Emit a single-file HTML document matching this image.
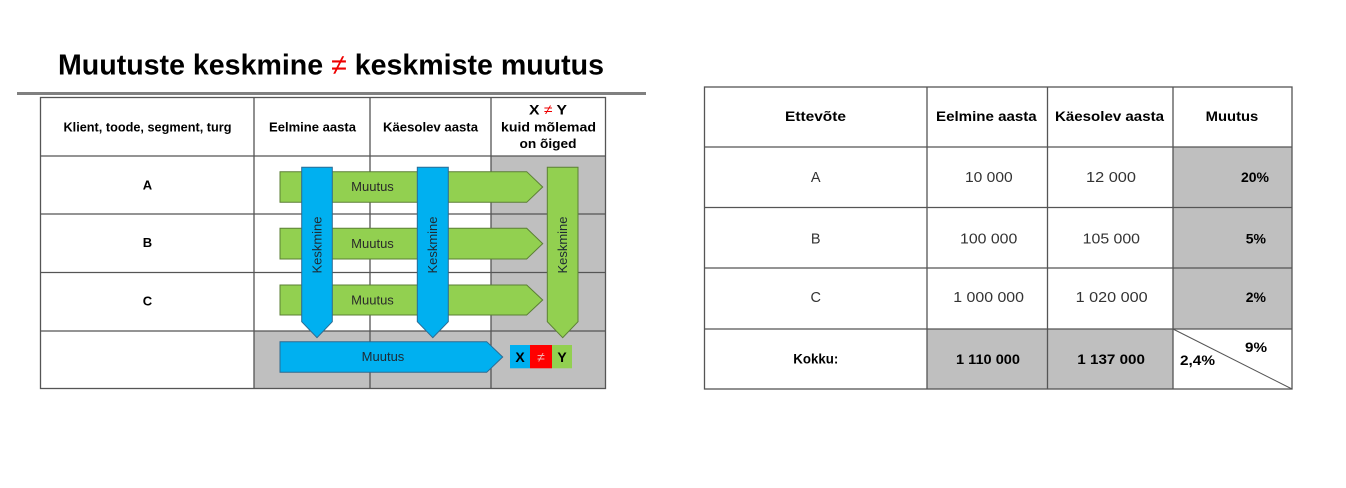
<!DOCTYPE html>
<html><head><meta charset="utf-8"><style>
html,body{margin:0;padding:0;background:#fff;}
svg{display:block;}
text{font-family:"Liberation Sans",sans-serif;}
</style></head><body>
<svg width="1346" height="488" viewBox="0 0 1346 488" xmlns="http://www.w3.org/2000/svg">
<rect width="1346" height="488" fill="#fff"/>
<!-- Title -->
<text x="58" y="74.5" font-size="29" font-weight="bold" fill="#000" textLength="546" lengthAdjust="spacingAndGlyphs">Muutuste keskmine <tspan fill="#e00" font-weight="normal">≠</tspan> keskmiste muutus</text>
<rect x="17" y="92" width="629" height="3" fill="#808080"/>

<!-- Left table shading -->
<rect x="491" y="156" width="115" height="175" fill="#bfbfbf"/>
<rect x="254" y="331" width="352" height="58" fill="#bfbfbf"/>
<!-- Left table grid -->
<g stroke="#555" stroke-width="1.3" fill="none">
<rect x="40.5" y="97.5" width="565" height="291"/>
<line x1="254" y1="97" x2="254" y2="389"/>
<line x1="370" y1="97" x2="370" y2="389"/>
<line x1="491" y1="97" x2="491" y2="389"/>
<line x1="40" y1="156" x2="606" y2="156"/>
<line x1="40" y1="214" x2="606" y2="214"/>
<line x1="40" y1="272.5" x2="606" y2="272.5"/>
<line x1="40" y1="331" x2="606" y2="331"/>
</g>
<!-- Left header text -->
<g font-size="13" font-weight="bold" fill="#000">
<text x="63.5" y="131.5" textLength="168" lengthAdjust="spacingAndGlyphs">Klient, toode, segment, turg</text>
<text x="269" y="131.5" textLength="87" lengthAdjust="spacingAndGlyphs">Eelmine aasta</text>
<text x="383" y="131.5" textLength="95" lengthAdjust="spacingAndGlyphs">Käesolev aasta</text>
<text x="529" y="114.5" font-size="14" textLength="38" lengthAdjust="spacingAndGlyphs">X <tspan fill="#e00" font-weight="normal">≠</tspan> Y</text>
<text x="501" y="131.5" textLength="95" lengthAdjust="spacingAndGlyphs">kuid mõlemad</text>
<text x="519.5" y="148" textLength="57" lengthAdjust="spacingAndGlyphs">on õiged</text>
<text x="147.5" y="189.5" text-anchor="middle">A</text>
<text x="147.5" y="247" text-anchor="middle">B</text>
<text x="147.5" y="305.5" text-anchor="middle">C</text>
</g>

<!-- Green horizontal arrows -->
<g fill="#92d050" stroke="#5b7f35" stroke-width="1">
<polygon points="280,171.7 526.7,171.7 542.7,187 526.7,202.3 280,202.3"/>
<polygon points="280,228.3 526.7,228.3 542.7,243.6 526.7,259 280,259"/>
<polygon points="280,285 526.7,285 542.7,300 526.7,315 280,315"/>
</g>
<g font-size="13" fill="#2a2a2a" text-anchor="middle">
<text x="372.5" y="191">Muutus</text>
<text x="372.5" y="248">Muutus</text>
<text x="372.5" y="304.5">Muutus</text>
</g>
<!-- Blue vertical arrows -->
<g fill="#00b0f0" stroke="#2c6b92" stroke-width="1">
<polygon points="301.7,167.3 332.3,167.3 332.3,321.7 317,337.7 301.7,321.7"/>
<polygon points="417.3,167.3 448.3,167.3 448.3,321.7 432.8,337.7 417.3,321.7"/>
</g>
<!-- Green vertical arrow -->
<polygon points="547.3,167.3 578,167.3 578,321.7 562.7,337.7 547.3,321.7" fill="#92d050" stroke="#5b7f35" stroke-width="1"/>
<g font-size="12.5" fill="#1e2a33" text-anchor="middle">
<text transform="translate(321.3,245) rotate(-90)" textLength="57" lengthAdjust="spacingAndGlyphs">Keskmine</text>
<text transform="translate(437.2,245) rotate(-90)" textLength="57" lengthAdjust="spacingAndGlyphs">Keskmine</text>
<text transform="translate(567.2,245) rotate(-90)" textLength="57" lengthAdjust="spacingAndGlyphs">Keskmine</text>
</g>
<!-- Blue horizontal arrow -->
<polygon points="280,341.7 486.7,341.7 502.7,357 486.7,372.3 280,372.3" fill="#00b0f0" stroke="#2c6b92" stroke-width="1"/>
<text x="383" y="361" font-size="13" fill="#1e2a33" text-anchor="middle">Muutus</text>
<!-- X != Y boxes -->
<rect x="510" y="345" width="20" height="23.3" fill="#00b0f0"/>
<rect x="530" y="345" width="22" height="23.3" fill="#ff0000"/>
<rect x="552" y="345" width="20" height="23.3" fill="#92d050"/>
<text x="520" y="362" font-size="14" font-weight="bold" fill="#000" text-anchor="middle">X</text>
<text x="541" y="362" font-size="14" fill="#f2b0b0" text-anchor="middle">≠</text>
<text x="562" y="362" font-size="14" font-weight="bold" fill="#000" text-anchor="middle">Y</text>

<!-- Right table shading -->
<rect x="1173" y="147" width="119" height="182" fill="#bfbfbf"/>
<rect x="927" y="329" width="246" height="60" fill="#bfbfbf"/>
<g stroke="#555" stroke-width="1.3" fill="none">
<rect x="704.5" y="87" width="587.5" height="302"/>
<line x1="927" y1="87" x2="927" y2="389"/>
<line x1="1047.5" y1="87" x2="1047.5" y2="389"/>
<line x1="1173" y1="87" x2="1173" y2="389"/>
<line x1="704" y1="147" x2="1292" y2="147"/>
<line x1="704" y1="207.5" x2="1292" y2="207.5"/>
<line x1="704" y1="268" x2="1292" y2="268"/>
<line x1="704" y1="329" x2="1292" y2="329"/>
</g>
<line x1="1173" y1="329" x2="1292" y2="389" stroke="#555" stroke-width="1"/>
<!-- Right headers -->
<g font-size="14" font-weight="bold" fill="#000">
<text x="785" y="121" textLength="61" lengthAdjust="spacingAndGlyphs">Ettevõte</text>
<text x="936" y="121" textLength="100.7" lengthAdjust="spacingAndGlyphs">Eelmine aasta</text>
<text x="1055" y="121" textLength="109" lengthAdjust="spacingAndGlyphs">Käesolev aasta</text>
<text x="1205.7" y="121" textLength="52.6" lengthAdjust="spacingAndGlyphs">Muutus</text>
</g>
<!-- Right data -->
<g font-size="14.5" fill="#333">
<text x="815.7" y="182" text-anchor="middle">A</text>
<text x="815.7" y="243.5" text-anchor="middle">B</text>
<text x="815.7" y="302" text-anchor="middle">C</text>
<text x="965" y="182" textLength="47.7" lengthAdjust="spacingAndGlyphs">10 000</text>
<text x="1086" y="182" textLength="50" lengthAdjust="spacingAndGlyphs">12 000</text>
<text x="960" y="243.5" textLength="57.3" lengthAdjust="spacingAndGlyphs">100 000</text>
<text x="1082.7" y="243.5" textLength="57.3" lengthAdjust="spacingAndGlyphs">105 000</text>
<text x="953.3" y="302" textLength="70.7" lengthAdjust="spacingAndGlyphs">1 000 000</text>
<text x="1075.7" y="302" textLength="72" lengthAdjust="spacingAndGlyphs">1 020 000</text>
</g>
<g font-size="14" font-weight="bold" fill="#000">
<text x="1269" y="182" text-anchor="end">20%</text>
<text x="1266" y="243.5" text-anchor="end">5%</text>
<text x="1266" y="302" text-anchor="end">2%</text>
<text x="793.3" y="363.5" textLength="45" lengthAdjust="spacingAndGlyphs">Kokku:</text>
<text x="956" y="364" textLength="64" lengthAdjust="spacingAndGlyphs">1 110 000</text>
<text x="1077.3" y="364" textLength="67.7" lengthAdjust="spacingAndGlyphs">1 137 000</text>
<text x="1245" y="352" textLength="22" lengthAdjust="spacingAndGlyphs">9%</text>
<text x="1180" y="365" textLength="35" lengthAdjust="spacingAndGlyphs">2,4%</text>
</g>
</svg>
</body></html>
